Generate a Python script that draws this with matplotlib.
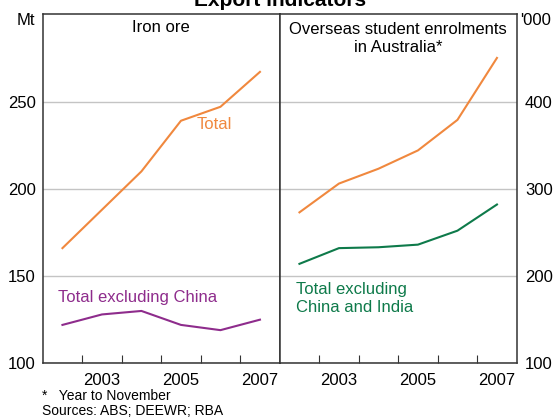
import numpy as np
import matplotlib
matplotlib.use("Agg")
import matplotlib.pyplot as plt
from matplotlib.ticker import FixedLocator

plt.rcParams["font.family"] = ["Liberation Sans", "DejaVu Sans"]

# Data
years = [2002, 2003, 2004, 2005, 2006, 2007]
iron_total = [166, 188, 210, 239, 247, 267]
iron_ex_china = [122, 128, 130, 122, 119, 125]
students_total = [273, 306, 323, 344, 379, 450]
students_ex_china_india = [214, 232, 233, 236, 252, 282]

orange = "#f0883e"
purple = "#8e2c8c"
green = "#0e7a4a"
grid_col = "#c4c4c4"

fig = plt.figure(figsize=(5.55, 4.19), dpi=100)
W, H = 555, 419
left, mid, right = 42.7, 279.7, 516.7
top, bottom = 14.3, 363.3

ax1 = fig.add_axes([left / W, 1 - bottom / H, (mid - left) / W, (bottom - top) / H])
ax2 = fig.add_axes([mid / W, 1 - bottom / H, (right - mid) / W, (bottom - top) / H])

for ax in (ax1, ax2):
    ax.set_xlim(2001.5, 2007.5)
    ax.xaxis.set_major_locator(FixedLocator([2003, 2005, 2007]))
    ax.xaxis.set_minor_locator(FixedLocator([2002.5, 2003.5, 2004.5, 2005.5, 2006.5]))
    ax.tick_params(axis="x", which="major", length=0, pad=7, labelsize=12)
    ax.tick_params(axis="x", which="minor", direction="in", length=6, width=0.8, color="#333333")
    ax.tick_params(axis="y", length=0, labelsize=12)
    for s in ax.spines.values():
        s.set_linewidth(1.1)
        s.set_color("#333333")
    ax.grid(axis="y", color=grid_col, linewidth=1.0)
    ax.set_axisbelow(True)

# Left panel: iron ore
ax1.set_ylim(100, 300)
ax1.set_yticks([100, 150, 200, 250])
ax1.tick_params(axis="y", pad=5)
ax1.plot(years, iron_total, color=orange, linewidth=1.5)
ax1.plot(years, iron_ex_china, color=purple, linewidth=1.5)
ax1.text(0.5, 0.962, "Iron ore", transform=ax1.transAxes, ha="center", va="center", fontsize=12)
ax1.text(2005.4, 237, "Total", color=orange, fontsize=12, va="center")
ax1.text(2001.9, 137.5, "Total excluding China", color=purple, fontsize=12, va="center")

# Right panel: student enrolments
ax2.set_ylim(100, 500)
ax2.set_yticks([100, 200, 300, 400])
ax2.yaxis.tick_right()
ax2.tick_params(axis="y", pad=6)
ax2.plot(years, students_total, color=orange, linewidth=1.5)
ax2.plot(years, students_ex_china_india, color=green, linewidth=1.5)
ax2.text(0.5, 0.978, "Overseas student enrolments\nin Australia*", transform=ax2.transAxes,
         ha="center", va="top", fontsize=12, linespacing=1.25)
ax2.text(2001.9, 193, "Total excluding\nChina and India", color=green, fontsize=12,
         va="top", linespacing=1.25)

# Units and title
fig.text(35 / W, 1 - 20.5 / H, "Mt", ha="right", va="center", fontsize=12)
fig.text(520 / W, 1 - 20.5 / H, "'000", ha="left", va="center", fontsize=12)
fig.text(mid / W, 1 - 6 / H, "Export indicators", ha="center", va="baseline",
         fontsize=15, fontweight="bold")

# Footnotes
fig.text(42 / W, 1 - 396 / H, "*   Year to November", ha="left", va="center", fontsize=10)
fig.text(42 / W, 1 - 410.5 / H, "Sources: ABS; DEEWR; RBA", ha="left", va="center", fontsize=10)

fig.savefig("out.png", dpi=100)
